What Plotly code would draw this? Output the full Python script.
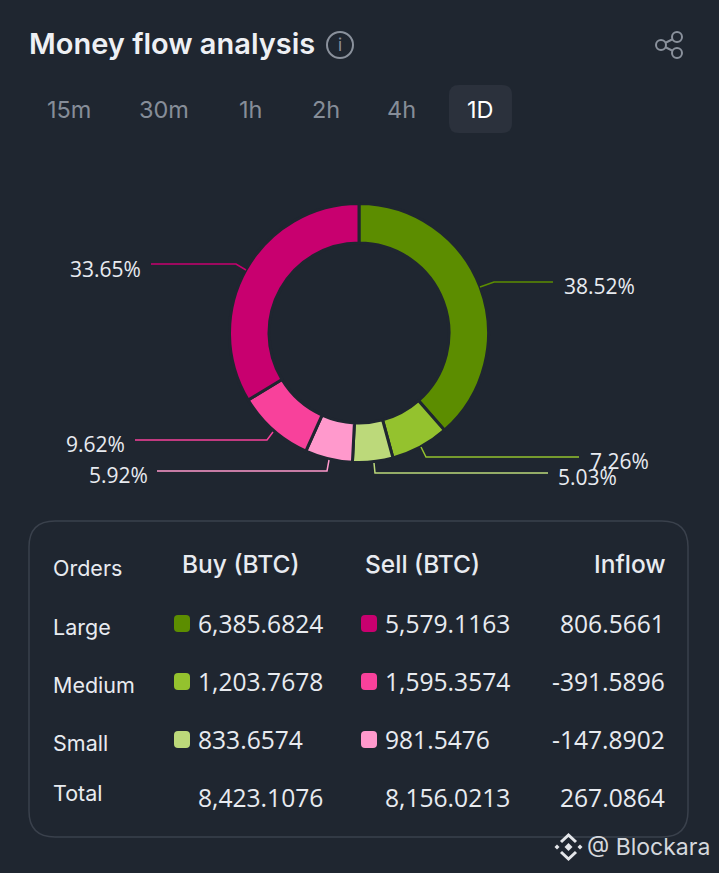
import plotly.graph_objects as go

W, H = 719, 873
BG = "#1f2630"
FONT = "Inter"
NUM_FONT = "Open Sans"

# data
slice_names = ["Large buy", "Medium buy", "Small buy", "Small sell", "Medium sell", "Large sell"]
slice_pct = [38.52, 7.26, 5.03, 5.92, 9.62, 33.65]
slice_colors = ["#5c8d00", "#94c22e", "#bcd97a", "#ff99cc", "#f8419b", "#c8006f"]

tabs = ["15m", "30m", "1h", "2h", "4h", "1D"]
orders = ["Large", "Medium", "Small", "Total"]
buy_vals = ["6,385.6824", "1,203.7678", "833.6574", "8,423.1076"]
sell_vals = ["5,579.1163", "1,595.3574", "981.5476", "8,156.0213"]
inflow_vals = ["806.5661", "-391.5896", "-147.8902", "267.0864"]
buy_colors = ["#5c8d00", "#94c22e", "#bcd97a"]
sell_colors = ["#c8006f", "#f8419b", "#ff99cc"]


def px(x):
    return x / W


def py(y):
    return 1 - y / H


shapes = []
notes = []


def text(x, y, s, size, color="#e8ebf0", anchor="left", weight=None, family=FONT):
    notes.append(dict(x=px(x), y=py(y), xref="paper", yref="paper", text=s, showarrow=False,
                      xanchor=anchor, yanchor="middle", align=anchor, borderpad=0, borderwidth=0,
                      font=dict(family=family, size=size, color=color, weight=weight)))


def path(points, color, width=1.5):
    d = "M" + " L".join(f"{px(x):.5f},{py(y):.5f}" for x, y in points)
    shapes.append(dict(type="path", path=d, xref="paper", yref="paper",
                       line=dict(color=color, width=width)))


def round_rect(x0, y0, x1, y1, r, fill=None, line=None, width=1.5):
    a, b, c, d = px(x0), px(x1), py(y0), py(y1)
    rx, ry = r / W, r / H
    p = (f"M{a + rx:.5f},{c:.5f} L{b - rx:.5f},{c:.5f} Q{b:.5f},{c:.5f} {b:.5f},{c - ry:.5f} "
         f"L{b:.5f},{d + ry:.5f} Q{b:.5f},{d:.5f} {b - rx:.5f},{d:.5f} "
         f"L{a + rx:.5f},{d:.5f} Q{a:.5f},{d:.5f} {a:.5f},{d + ry:.5f} "
         f"L{a:.5f},{c - ry:.5f} Q{a:.5f},{c:.5f} {a + rx:.5f},{c:.5f} Z")
    shapes.append(dict(type="path", path=p, xref="paper", yref="paper", fillcolor=fill,
                       line=dict(color=line or "rgba(0,0,0,0)", width=width), layer="below"))


def circle(cx, cy, r, color, width=2, fill=None):
    shapes.append(dict(type="circle", xref="paper", yref="paper", fillcolor=fill,
                       x0=px(cx - r), x1=px(cx + r), y0=py(cy + r), y1=py(cy - r),
                       line=dict(color=color, width=width)))


def diamond(x, y, s, fill):
    d = (f"M{px(x):.5f},{py(y - s):.5f} L{px(x + s):.5f},{py(y):.5f} "
         f"L{px(x):.5f},{py(y + s):.5f} L{px(x - s):.5f},{py(y):.5f} Z")
    shapes.append(dict(type="path", path=d, xref="paper", yref="paper", fillcolor=fill,
                       line=dict(width=0)))


fig = go.Figure()

# donut
cx, cy, r = 359, 333, 129.5
fig.add_trace(go.Pie(
    labels=slice_names, values=slice_pct, sort=False, direction="clockwise", rotation=0,
    hole=0.695, textinfo="none", showlegend=False,
    marker=dict(colors=slice_colors, line=dict(color=BG, width=3)),
    domain=dict(x=[px(cx - r), px(cx + r)], y=[py(cy + r), py(cy - r)]),
))

# leader lines and their labels
leaders = [
    [(480, 287), (494, 282), (553, 282)],
    [(421, 447), (426, 457), (579, 457)],
    [(374, 463), (375, 473), (548, 473)],
    [(329, 460), (327, 471), (157, 471)],
    [(273, 432), (267, 440), (135, 440)],
    [(246, 270), (236, 264), (151, 264)],
]
label_pos = [(564, 286, "left"), (590, 461, "left"), (558, 477, "left"),
             (148, 475, "right"), (125, 444, "right"), (141, 269, "right")]
for pts, pos, val, col in zip(leaders, label_pos, slice_pct, slice_colors):
    path(pts, col)
    text(pos[0], pos[1], f"{val:.2f}%", 21, anchor=pos[2], family=NUM_FONT)

# header
text(29, 43, "Money flow analysis", 29, color="#eef0f4", weight=600)
circle(340, 45, 13, "#8a919c")
text(340, 45, "i", 17, color="#8a919c", anchor="center")
path([(677, 37), (661, 45), (677, 53)], "#8a919c", 2)
circle(661, 45, 5, "#8a919c", fill=BG)
circle(677, 37, 5, "#8a919c", fill=BG)
circle(677, 53, 5, "#8a919c", fill=BG)

round_rect(449, 85, 512, 133, 10, fill="#2b313c")
for t, x in zip(tabs, [69, 164, 251, 326, 402, 480]):
    text(x, 109, t, 23.5, color="#ffffff" if t == "1D" else "#868d98", anchor="center")

# table
round_rect(29, 521, 688, 837, 26, line="#3a414c", width=1.5)
text(53, 568, "Orders", 21.5)
text(182, 564, "Buy (BTC)", 24.5, weight=500)
text(365, 564, "Sell (BTC)", 24.5, weight=500)
text(666, 564, "Inflow", 24.5, anchor="right", weight=500)

label_y = [627, 685, 743, 793]
value_y = [623, 681, 739, 797]
for i, name in enumerate(orders):
    text(53, label_y[i], name, 21.5)
    text(198, value_y[i], buy_vals[i], 24.6, family=NUM_FONT)
    text(385, value_y[i], sell_vals[i], 24.6, family=NUM_FONT)
    text(665, value_y[i], inflow_vals[i], 24.6, anchor="right", family=NUM_FONT)
for i in range(3):
    y = value_y[i] + 1
    round_rect(174, y - 9, 190, y + 8, 4, fill=buy_colors[i])
    round_rect(361, y - 9, 377, y + 8, 4, fill=sell_colors[i])

# watermark
path([(561, 842), (568.5, 835), (576, 842)], "#e4e6ea", 3)
path([(561, 852), (568.5, 859), (576, 852)], "#e4e6ea", 3)
diamond(568.5, 847, 4, "#e4e6ea")
diamond(557, 847, 2.5, "#e4e6ea")
diamond(580, 847, 2.5, "#e4e6ea")
text(587, 847, "@ Blockara", 23, color="#d5d8dd")

fig.update_layout(
    width=W, height=H, autosize=False,
    margin=dict(l=0, r=0, t=0, b=0),
    paper_bgcolor=BG, plot_bgcolor=BG,
    shapes=shapes, annotations=notes,
)

fig.write_html("out.html", config={"displayModeBar": False},
               post_script="document.body.style.margin='0';document.body.style.background='#1f2630';")
